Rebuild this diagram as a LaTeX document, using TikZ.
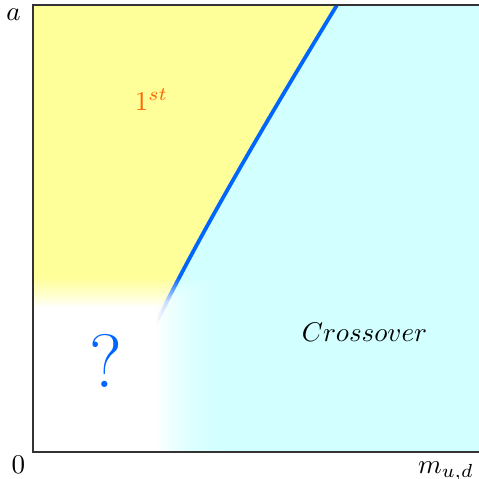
\documentclass[tikz,border=0pt]{standalone}
\usepackage{amsmath,amssymb}
\usepackage{xcolor}
\usepackage{tikz}
\definecolor{firstyellow}{RGB}{255,255,153}
\definecolor{crosscyan}{RGB}{210,255,255}
\definecolor{lineblue}{RGB}{0,102,255}
\definecolor{labelorange}{RGB}{255,100,0}
\tikzset{
  firstregion/.style={fill=firstyellow},
  crossregion/.style={fill=crosscyan},
  boundary/.style={draw=lineblue, line width=1.4pt},
  frame/.style={draw=black!80, line width=0.5pt},
  axislabel/.style={anchor=base, inner sep=0pt, font=\normalsize},
  phaselabel/.style={anchor=base, inner sep=0pt}
}
\newcommand{\fadesteps}{30}

\begin{document}
\begin{tikzpicture}[x=0.37pt, y=-0.37pt]
  \clip (0,0) rectangle (479,479);
  \coordinate (top) at (337,5);
  \coordinate (low) at (150,336);
  \coordinate (foot) at (95,452);

  % phase regions
  \fill[firstregion] (33,5) -- (top) .. controls (262,128) and (190,251) .. (low) -- (foot) -- (33,452) -- cycle;
  \fill[crossregion] (top) -- (490,5) -- (490,452) -- (foot) -- (low) .. controls (190,251) and (262,128) .. (top);
  \draw[boundary] (low) .. controls (190,251) and (262,128) .. (top);

  % washed-out corner
  \foreach \k [evaluate=\k as \op using {1/(\fadesteps+1-\k)},
               evaluate=\k as \ytop using {277+30*\k/\fadesteps},
               evaluate=\k as \xright using {217-60*\k/\fadesteps}] in {1,...,\fadesteps}
    \fill[white, opacity=\op] (30,\ytop) rectangle (\xright,460);

  \draw[frame] (490,5) -- (33,5) -- (33,452) -- (490,452);

  \node[axislabel] (alabel) at (13.5,20) {$a$};
  \node[axislabel] (zero) at (18.5,473) {$0$};
  \node[axislabel] (mlabel) at (446,473) {$m_{u,d}$};
  \node[phaselabel, text=labelorange] (first) at (151.5,110) {$1^{st}$};
  \node[phaselabel] (cross) at (364.5,341.5) {$Crossover$};
  \node[phaselabel, text=lineblue, font=\fontsize{28}{30}\selectfont] (unknown) at (106,387) {?};
\end{tikzpicture}
\end{document}
